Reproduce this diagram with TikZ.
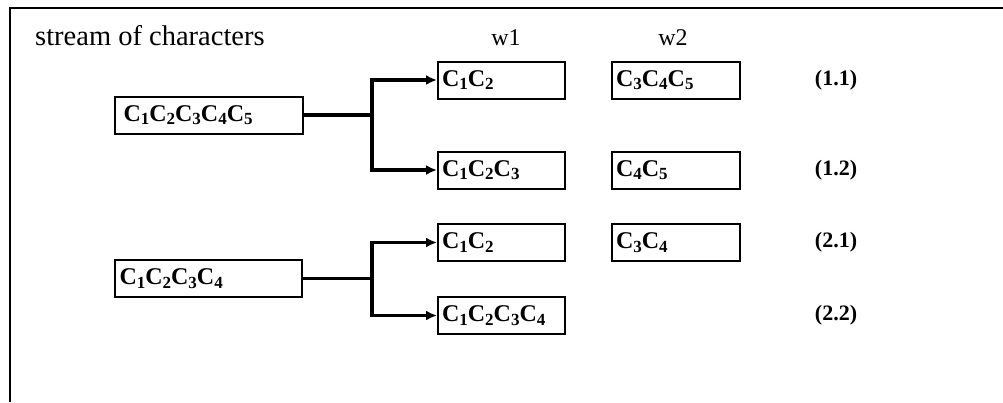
\documentclass[tikz,border=0pt]{standalone}
\usepackage{fontspec}
\setmainfont{Liberation Serif}
\usetikzlibrary{arrows.meta}
\newcommand{\Cs}[1]{C\raisebox{-0.32ex}{\fontsize{17}{17}\selectfont #1}}
\tikzset{
  cbox/.style={draw, line width=2pt, minimum height=37pt, inner ysep=0pt,
    align=left, font=\fontsize{24}{26}\selectfont\bfseries, anchor=center},
  conn/.style={line width=3.2pt},
  arr/.style={conn, -{Latex[length=11pt,width=10pt]}},
  lbl/.style={font=\fontsize{22}{24}\selectfont\bfseries},
  hdr/.style={font=\fontsize{24}{26}\selectfont},
  frame/.style={line width=2.6pt}
}
\begin{document}
\begin{tikzpicture}[x=1pt,y=-1pt]
\useasboundingbox (0,0) rectangle (1003,402);
% frame
\coordinate (ftl) at (10,8);
\coordinate (ftr) at (1003,8);
\coordinate (fbl) at (10,402);
\draw[frame] (ftr) -- (ftl) -- (fbl);
% headers
\node[hdr, anchor=base west, inner sep=0pt, font=\fontsize{28.5}{30}\selectfont] (title) at (35,45) {stream of characters};
\node[hdr, anchor=base, inner sep=0pt] (hw1) at (506,45) {w1};
\node[hdr, anchor=base, inner sep=0pt] (hw2) at (673,45) {w2};
% source boxes
\node[cbox, minimum width=187pt, text width=170pt, inner xsep=9pt] (A) at (208.5,115) {\Cs{1}\Cs{2}\Cs{3}\Cs{4}\Cs{5}};
\node[cbox, minimum width=187pt, text width=178pt, inner xsep=4.5pt] (B) at (208.5,278.5) {\Cs{1}\Cs{2}\Cs{3}\Cs{4}};
% w1 boxes
\node[cbox, minimum width=127pt, text width=119pt, inner xsep=4pt] (w11) at (501.5,80) {\Cs{1}\Cs{2}};
\node[cbox, minimum width=127pt, text width=119pt, inner xsep=4pt] (w12) at (501.5,170) {\Cs{1}\Cs{2}\Cs{3}};
\node[cbox, minimum width=127pt, text width=119pt, inner xsep=4pt] (w21) at (501.5,242.5) {\Cs{1}\Cs{2}};
\node[cbox, minimum width=127pt, text width=119pt, inner xsep=4pt] (w22) at (501.5,315.5) {\Cs{1}\Cs{2}\Cs{3}\Cs{4}};
% w2 boxes
\node[cbox, minimum width=128pt, text width=120pt, inner xsep=4pt] (v11) at (676,80) {\Cs{3}\Cs{4}\Cs{5}};
\node[cbox, minimum width=128pt, text width=120pt, inner xsep=4pt] (v12) at (676,170) {\Cs{4}\Cs{5}};
\node[cbox, minimum width=128pt, text width=120pt, inner xsep=4pt] (v21) at (676,242.5) {\Cs{3}\Cs{4}};
% labels
\node[lbl] (l11) at (836,80) {(1.1)};
\node[lbl] (l12) at (836,170) {(1.2)};
\node[lbl] (l21) at (836,242.5) {(2.1)};
\node[lbl] (l22) at (836,315.5) {(2.2)};
% connectors
\coordinate (j1) at (372,115);
\coordinate (j2) at (372,278.5);
\draw[conn] (A.east) -- (j1);
\draw[arr] (j1) |- (w11.west);
\draw[arr] (j1) |- (w12.west);
\draw[conn] (B.east) -- (j2);
\draw[arr] (j2) |- (w21.west);
\draw[arr] (j2) |- (w22.west);
\end{tikzpicture}
\end{document}
